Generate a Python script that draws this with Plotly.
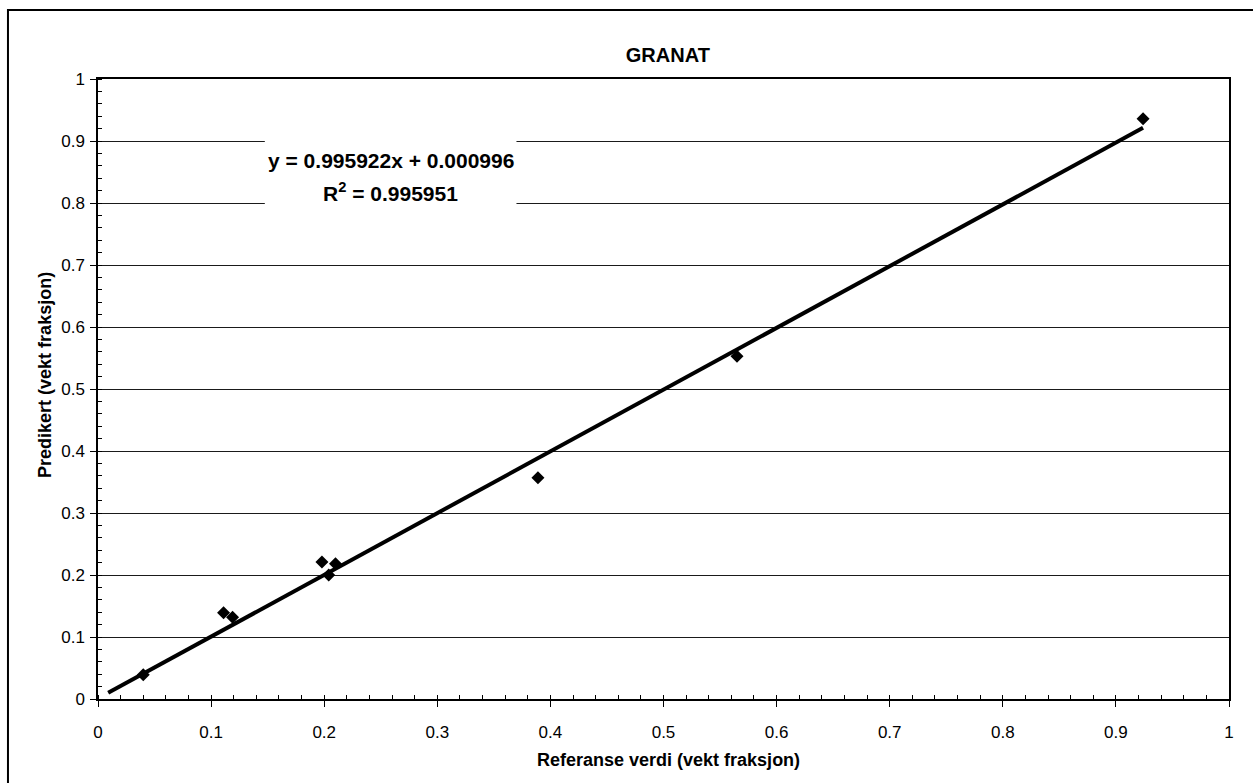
import numpy as np
import plotly.graph_objects as go

# Reference vs. predicted weight fractions for garnet
ref_x = [0.040, 0.111, 0.119, 0.198, 0.204, 0.210, 0.389, 0.565, 0.924]
pred_y = [0.039, 0.139, 0.132, 0.221, 0.200, 0.218, 0.357, 0.553, 0.936]

# Linear trend line as stated in the label
slope = 0.995922
intercept = 0.000996
r_squared = 0.995951
trend_x_range = [0.009, 0.924]

tick_vals = [0, 0.1, 0.2, 0.3, 0.4, 0.5, 0.6, 0.7, 0.8, 0.9, 1]
tick_text = ["0", "0.1", "0.2", "0.3", "0.4", "0.5", "0.6", "0.7", "0.8", "0.9", "1"]

FONT = "Liberation Sans, Arial, sans-serif"

tx = np.array(trend_x_range)
ty = slope * tx + intercept

fig = go.Figure()
fig.add_trace(go.Scatter(
    x=tx, y=ty, mode="lines",
    line=dict(color="black", width=4),
    showlegend=False, hoverinfo="skip",
))
fig.add_trace(go.Scatter(
    x=ref_x, y=pred_y, mode="markers",
    marker=dict(symbol="diamond", size=10, color="black"),
    showlegend=False,
))

# White box behind the regression label (hides the gridlines there)
fig.add_shape(
    type="rect", xref="x", yref="y",
    x0=0.1475, x1=0.370, y0=0.78, y1=0.91,
    fillcolor="white", line=dict(width=0), layer="between",
)
eq_font = dict(family=FONT, size=21, color="black")
fig.add_annotation(
    x=0.259, y=0.869, xref="x", yref="y", showarrow=False,
    text=f"<b>y = {slope:.6f}x + {intercept:.6f}</b>", font=eq_font,
)
fig.add_annotation(
    x=0.259, y=0.817, xref="x", yref="y", showarrow=False,
    text=f"<b>R<sup>2</sup> = {r_squared:.6f}</b>", font=eq_font,
)

# Axis titles
title_font = dict(family=FONT, size=18, color="black")
fig.add_annotation(
    x=0.504, y=-0.0984, xref="paper", yref="paper", showarrow=False,
    text="<b>Referanse verdi (vekt fraksjon)</b>", font=title_font,
    xanchor="center", yanchor="middle",
)
fig.add_annotation(
    x=-0.0469, y=0.5226, xref="paper", yref="paper", showarrow=False,
    text="<b>Predikert (vekt fraksjon)</b>", font=title_font,
    textangle=-90, xanchor="center", yanchor="middle",
)

# Outer chart frame
fig.add_shape(
    type="rect", xref="paper", yref="paper",
    x0=-0.0796, x1=1.03, y0=-0.15, y1=1.1113,
    line=dict(color="black", width=2), layer="below",
)

axis_common = dict(
    range=[0, 1],
    tickvals=tick_vals, ticktext=tick_text,
    showline=True, linecolor="black", linewidth=1.5, mirror=True,
    ticks="outside", ticklen=6, tickcolor="black", tickwidth=1,
    tickfont=dict(family=FONT, size=17, color="black"),
    zeroline=False,
    minor=dict(ticks="inside", dtick=0.02, ticklen=4, tickcolor="black",
               showgrid=False),
)

fig.update_xaxes(**axis_common, showgrid=False, ticklabelstandoff=11)
fig.update_yaxes(**axis_common, showgrid=True, gridcolor="#1a1a1a",
                 gridwidth=1, ticklabelstandoff=2)

fig.update_layout(
    width=1253, height=783,
    margin=dict(l=98, r=24, t=79, b=84),
    paper_bgcolor="white", plot_bgcolor="white",
    title=dict(text="<b>GRANAT</b>", x=0.533, xanchor="center",
               y=1 - 55 / 783, yanchor="middle",
               font=dict(family=FONT, size=20, color="black")),
)

fig.write_html("out.html")
